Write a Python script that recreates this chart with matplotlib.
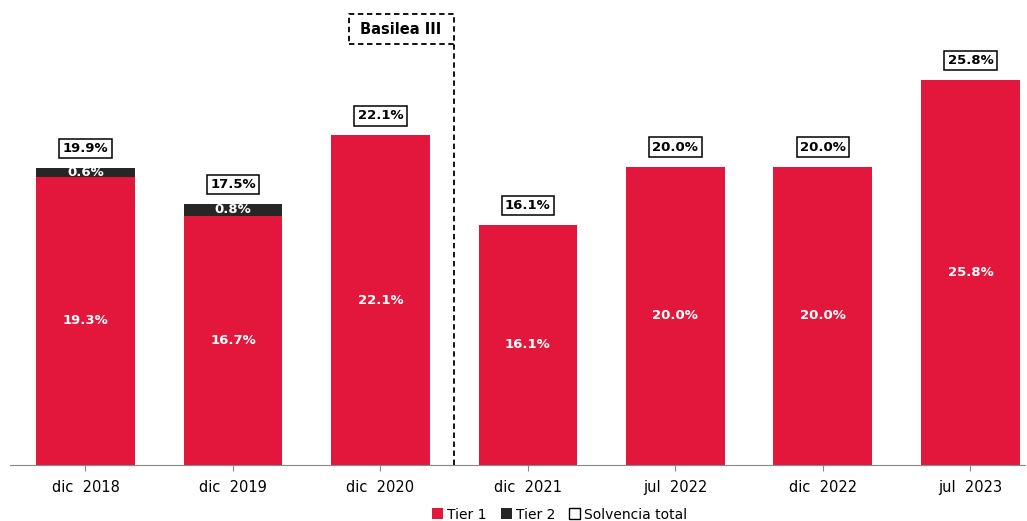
import matplotlib
matplotlib.use("Agg")
import matplotlib.pyplot as plt
from matplotlib.patches import Patch

RED = "#E2173B"
BLACK = "#262626"

periods = ["dic  2018", "dic  2019", "dic  2020", "dic  2021", "jul  2022", "dic  2022", "jul  2023"]
tier1 = [19.3, 16.7, 22.1, 16.1, 20.0, 20.0, 25.8]
tier2 = [0.6, 0.8, 0.0, 0.0, 0.0, 0.0, 0.0]
total = [19.9, 17.5, 22.1, 16.1, 20.0, 20.0, 25.8]

fig = plt.figure(figsize=(10.27, 5.21), dpi=100)
ax = fig.add_axes([0.01, 0.1075, 0.988, 0.885])

x = list(range(len(periods)))
ax.bar(x, tier1, width=0.67, color=RED, zorder=2)
ax.bar(x, tier2, width=0.67, bottom=tier1, color=BLACK, zorder=2)

for i in x:
    ax.text(i, tier1[i] / 2, f"{tier1[i]:.1f}%", ha="center", va="center",
            color="white", fontsize=9.5, fontweight="bold")
    if tier2[i] > 0:
        ax.text(i, tier1[i] + tier2[i] / 2, f"{tier2[i]:.1f}%", ha="center", va="center",
                color="white", fontsize=9.5, fontweight="bold")
    ax.text(i, total[i] + 1.3, f"{total[i]:.1f}%", ha="center", va="center",
            color="black", fontsize=9.5, fontweight="bold",
            bbox=dict(boxstyle="square,pad=0.25", facecolor="white", edgecolor="black", lw=1.1))

# Basilea III divider
ax.plot([2.5, 2.5], [0, 28.2], ls=(0, (3, 2)), color="black", lw=1.3, zorder=3)
ax.plot([1.79, 2.5, 2.5, 1.79, 1.79], [28.2, 28.2, 30.2, 30.2, 28.2],
        ls=(0, (3, 2)), color="black", lw=1.3, zorder=3)
ax.text(2.14, 29.2, "Basilea III", ha="center", va="center", fontsize=10.5,
        fontweight="bold", color="black")

ax.set_xlim(-0.51, 6.37)
ax.set_ylim(0, 30.9)
ax.set_xticks(x)
ax.set_xticklabels(periods, fontsize=10.5)
ax.tick_params(axis="x", length=4, color="#888888", pad=7)
ax.set_yticks([])
for s in ("top", "right", "left"):
    ax.spines[s].set_visible(False)
ax.spines["bottom"].set_color("#888888")

handles = [Patch(facecolor=RED, label="Tier 1"),
           Patch(facecolor=BLACK, label="Tier 2"),
           Patch(facecolor="white", edgecolor="black", label="Solvencia total")]
fig.legend(handles=handles, loc="lower center", bbox_to_anchor=(0.545, -0.025), ncol=3,
           frameon=False, fontsize=10, handlelength=0.8, handleheight=0.8,
           handletextpad=0.3, columnspacing=1.0)

fig.savefig("out.png", dpi=100, facecolor="white")
